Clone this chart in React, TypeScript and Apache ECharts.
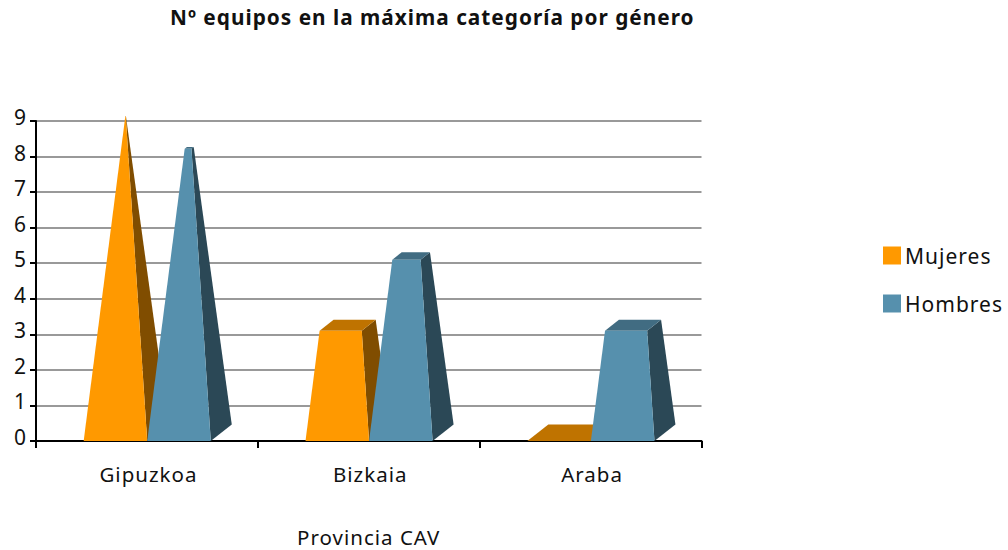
import React, { useEffect, useRef } from "react";
import * as echarts from "echarts";

const categories = ["Gipuzkoa", "Bizkaia", "Araba"];
const mujeres = [9.13, 3.1, 0];
const hombres = [8.22, 5.1, 3.1];
const seriesNames = ["Mujeres", "Hombres"];
const yTicks = [0, 1, 2, 3, 4, 5, 6, 7, 8, 9];

const FONT = "Noto Sans";
const palette = [
  { front: "#FF9900", side: "#804D00", top: "#BF7300" },
  { front: "#5690AD", side: "#2B4856", top: "#416C82" },
];

// Each bar is a frustum whose edges converge at a common vanishing height.
const VANISH = 9.2;
const LEFT_SHARE = 0.66;
const BAR_SHARE = 0.2865;
const BAR_SHIFT = 0.3;
const DEPTH_X = 21;
const DEPTH_Y = 16.5;

function frustum(seriesIndex: number) {
  return (_params: any, api: any) => {
    const idx = api.value(0);
    const val = api.value(1);
    const base = api.coord([idx, 0]);
    const top = api.coord([idx, val]);
    const band = api.size([1, 0])[0];
    const w = band * BAR_SHARE;
    const bl = (seriesIndex === 0 ? base[0] - w : base[0]) + BAR_SHIFT;
    const br = bl + w;
    const y0 = base[1];
    const y1 = top[1];
    const t = val / VANISH;
    const tl = bl + w * t * LEFT_SHARE;
    const tr = br - w * t * (1 - LEFT_SHARE);
    const dx = DEPTH_X * (1 - t);
    const dy = DEPTH_Y * (1 - t);
    const c = palette[seriesIndex];
    const poly = (points: number[][], fill: string) => ({
      type: "polygon",
      shape: { points },
      style: { fill },
    });
    return {
      type: "group",
      children: [
        poly([[br, y0], [tr, y1], [tr + dx, y1 - dy], [br + DEPTH_X, y0 - DEPTH_Y]], c.side),
        poly([[tl, y1], [tr, y1], [tr + dx, y1 - dy], [tl + dx, y1 - dy]], c.top),
        poly([[bl, y0], [br, y0], [tr, y1], [tl, y1]], c.front),
      ],
    };
  };
}

export default function App() {
  const ref = useRef<HTMLDivElement>(null);
  useEffect(() => {
    const chart = echarts.init(ref.current!, undefined, { renderer: "svg" });
    chart.setOption({
      animation: false,
      backgroundColor: "#fff",
      title: {
        text: "Nº equipos en la máxima categoría por género",
        left: 170,
        top: 6,
        padding: 0,
        textStyle: { fontFamily: FONT, fontWeight: "bold", fontSize: 20.8, color: "#111" },
      },
      legend: {
        orient: "vertical",
        left: 883,
        top: 245,
        padding: 0,
        itemWidth: 18,
        itemHeight: 18,
        itemGap: 27,
        icon: "rect",
        data: seriesNames.map((name, i) => ({
          name,
          itemStyle: { color: palette[i].front },
        })),
        textStyle: { fontFamily: FONT, fontSize: 21, color: "#111", padding: [0, 0, 2, -1] },
      },
      grid: { left: 36, right: 306.5, top: 121, bottom: 109, outerBoundsMode: "none" },
      xAxis: {
        type: "category",
        data: categories,
        boundaryGap: true,
        name: "Provincia CAV",
        nameLocation: "middle",
        nameGap: 85,
        nameTextStyle: { fontFamily: FONT, fontSize: 20.5, color: "#111" },
        axisLine: { lineStyle: { color: "#000", width: 2 } },
        axisTick: { show: true, alignWithLabel: false, length: 7, lineStyle: { color: "#000", width: 2 } },
        axisLabel: { fontFamily: FONT, fontSize: 20.5, color: "#111", margin: 22, padding: [0, 0, 0, 3] },
      },
      yAxis: {
        type: "value",
        min: yTicks[0],
        max: yTicks[yTicks.length - 1],
        interval: 1,
        axisLine: { show: true, lineStyle: { color: "#000", width: 2 } },
        axisTick: { show: true, length: 6, lineStyle: { color: "#000", width: 2 } },
        axisLabel: {
          fontFamily: FONT,
          fontSize: 21,
          color: "#111",
          margin: 9,
          verticalAlign: "bottom",
          lineHeight: 8,
        },
        splitLine: { show: true, lineStyle: { color: "#999", width: 2 } },
      },
      series: [mujeres, hombres].map((values, i) => ({
        type: "custom",
        name: seriesNames[i],
        coordinateSystem: "cartesian2d",
        clip: false,
        z: 3 + i,
        itemStyle: { color: palette[i].front },
        encode: { x: 0, y: 1 },
        data: values.map((v, k) => [k, v]),
        renderItem: frustum(i),
      })),
    });
    return () => chart.dispose();
  }, []);
  return (
    <div
      ref={ref}
      style={{ position: "absolute", left: 0, top: 0, width: 1008, height: 550, letterSpacing: "1px" }}
    />
  );
}
